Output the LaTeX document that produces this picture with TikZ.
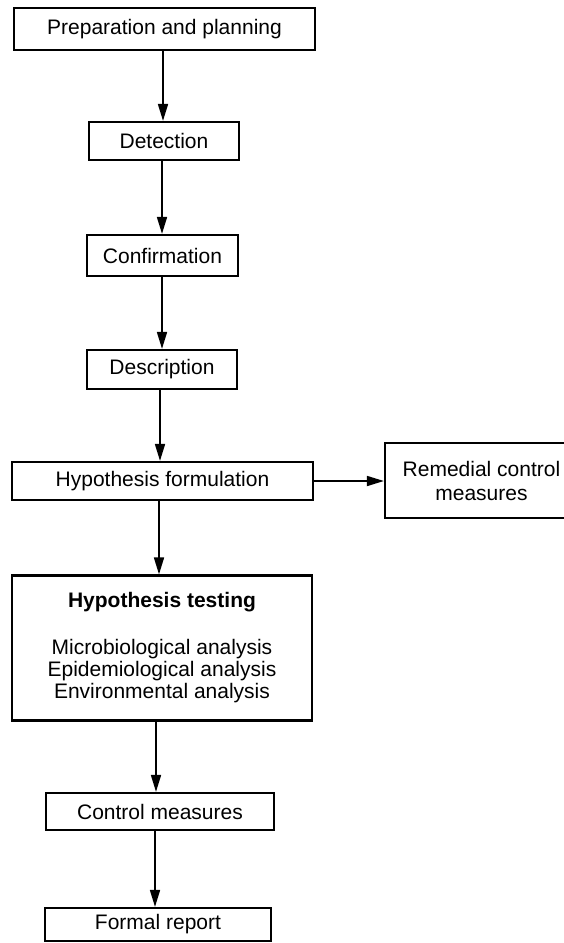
\documentclass[tikz,border=0pt]{standalone}
\usepackage{fontspec}
\setmainfont{Liberation Sans}
\usetikzlibrary{arrows.meta}
\begin{document}
\begin{tikzpicture}[x=1pt,y=-1pt,
  box/.style={draw, line width=2.2pt, inner sep=0pt, align=center,
    font=\fontsize{21}{22}\selectfont},
  arr/.style={line width=1.7pt, -{Triangle[length=17pt,width=10pt]}}]
\useasboundingbox (0,0) rectangle (564,943);
\node[box, minimum width=301pt, minimum height=42pt] (prep) at (164.5,29) {Preparation and planning};
\node[box, minimum width=150pt, minimum height=38pt] (det) at (164,141) {Detection};
\node[box, minimum width=151pt, minimum height=41pt] (conf) at (162.5,255.5) {Confirmation};
\node[box, minimum width=150pt, minimum height=39pt] (desc) at (162,369.5) {Description};
\node[box, minimum width=301pt, minimum height=38pt] (hform) at (162.5,481) {Hypothesis formulation};
\node[box, minimum width=193pt, minimum height=75pt,
  font=\fontsize{21}{24}\selectfont] (rem) at (481.5,480.5) {Remedial control\\measures};
\node[box, minimum width=300pt, minimum height=145pt] (htest) at (162,648)
  {\textbf{Hypothesis testing}\\[25pt]Microbiological analysis\\Epidemiological analysis\\Environmental analysis};
\node[box, minimum width=228pt, minimum height=37pt] (ctrl) at (160,811.5) {Control measures};
\node[box, minimum width=226pt, minimum height=33pt] (rep) at (158,924.5) {Formal report};
\coordinate (a1) at (163,0);
\coordinate (a2) at (162,0);
\coordinate (a3) at (162,0);
\coordinate (a4) at (160,0);
\coordinate (a5) at (159,0);
\coordinate (a6) at (156,0);
\coordinate (a7) at (155,0);
\draw[arr] (prep.south -| a1) -- (det.north -| a1);
\draw[arr] (det.south -| a2) -- (conf.north -| a2);
\draw[arr] (conf.south -| a3) -- (desc.north -| a3);
\draw[arr] (desc.south -| a4) -- (hform.north -| a4);
\draw[arr] (hform.south -| a5) -- (htest.north -| a5);
\draw[arr] (htest.south -| a6) -- (ctrl.north -| a6);
\draw[arr] (ctrl.south -| a7) -- (rep.north -| a7);
\draw[arr] (hform.east) -- (rem.west |- hform.east);
\end{tikzpicture}
\end{document}
